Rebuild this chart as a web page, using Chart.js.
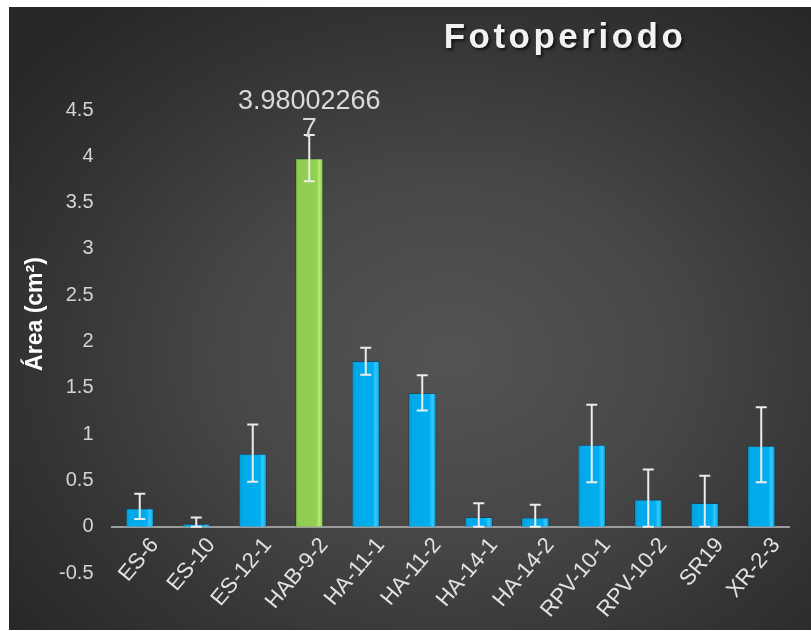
<!DOCTYPE html>
<html>
<head>
<meta charset="utf-8">
<title>Fotoperiodo</title>
<script src="https://cdn.jsdelivr.net/npm/chart.js@4"></script>
<style>
  html, body { margin: 0; padding: 0; background: #fff; }
  #wrap {
    position: absolute; left: 9px; top: 7px; width: 802px; height: 623px;
    background: radial-gradient(ellipse 70% 72% at 55% 56%, #545454 0%, #474747 40%, #333 75%, #272727 100%);
  }
</style>
</head>
<body>
<div id="wrap"><canvas id="chart"></canvas></div>
<script>
const categories = ['ES-6', 'ES-10', 'ES-12-1', 'HAB-9-2', 'HA-11-1', 'HA-11-2', 'HA-14-1', 'HA-14-2', 'RPV-10-1', 'RPV-10-2', 'SR19', 'XR-2-3'];
const areaValues = [0.20, 0.032, 0.788, 3.980022667, 1.79, 1.445, 0.105, 0.10, 0.886, 0.295, 0.256, 0.875];
const errorPlus  = [0.155, 0.068, 0.317, 0.25, 0.143, 0.19, 0.147, 0.138, 0.431, 0.324, 0.295, 0.415];
const errorMinus = [0.117, 0.032, 0.302, 0.25, 0.148, 0.19, 0.105, 0.10, 0.407, 0.295, 0.256, 0.396];
const yTicks = [-0.5, 0, 0.5, 1, 1.5, 2, 2.5, 3, 3.5, 4, 4.5];
const highlighted = 'HAB-9-2';

const FONT = "'Liberation Sans', Arial, sans-serif";

// bevelled look: darker edges, lighter stripe on the right side
const barFill = (ctx) => {
    const chart = ctx.chart;
    const green = categories[ctx.dataIndex] === highlighted;
    const x = chart.scales.x;
    const cx = x ? x.getPixelForValue(ctx.dataIndex) : NaN;
    if (!Number.isFinite(cx)) return green ? '#92d050' : '#00aeef';
    const half = 14;
    const g = chart.ctx.createLinearGradient(cx - half, 0, cx + half, 0);
    if (green) {
        g.addColorStop(0, '#78b53e');
        g.addColorStop(0.12, '#8fcc52');
        g.addColorStop(0.75, '#92d050');
        g.addColorStop(0.86, '#b6ec72');
        g.addColorStop(1, '#82bf45');
    } else {
        g.addColorStop(0, '#0590c6');
        g.addColorStop(0.12, '#02a9e8');
        g.addColorStop(0.75, '#00aeef');
        g.addColorStop(0.86, '#35cbff');
        g.addColorStop(1, '#0396d0');
    }
    return g;
};

const errorBars = {
    id: 'errorBars',
    afterDatasetsDraw(chart) {
        const { ctx, scales: { y } } = chart;
        const meta = chart.getDatasetMeta(0);
        ctx.save();
        ctx.strokeStyle = '#ececec';
        ctx.lineWidth = 2;
        meta.data.forEach((bar, i) => {
            const v = areaValues[i];
            const top = y.getPixelForValue(v + errorPlus[i]);
            const bot = y.getPixelForValue(v - errorMinus[i]);
            const cap = 5.5;
            ctx.beginPath();
            ctx.moveTo(bar.x, top); ctx.lineTo(bar.x, bot);
            ctx.moveTo(bar.x - cap, top); ctx.lineTo(bar.x + cap, top);
            ctx.moveTo(bar.x - cap, bot); ctx.lineTo(bar.x + cap, bot);
            ctx.stroke();
        });
        ctx.restore();
    }
};

const valueLabel = {
    id: 'valueLabel',
    afterDatasetsDraw(chart) {
        const { ctx } = chart;
        const i = categories.indexOf(highlighted);
        const bar = chart.getDatasetMeta(0).data[i];
        const text = String(areaValues[i]);
        const lines = [text.slice(0, 10), text.slice(10)];
        ctx.save();
        ctx.fillStyle = '#d9d9d9';
        ctx.font = '27px ' + FONT;
        ctx.textAlign = 'center';
        ctx.textBaseline = 'middle';
        ctx.fillText(lines[0], bar.x, bar.y - 57);
        ctx.fillText(lines[1], bar.x, bar.y - 29);
        ctx.restore();
    }
};

const titles = {
    id: 'titles',
    afterDraw(chart) {
        const { ctx } = chart;
        ctx.save();
        ctx.textAlign = 'center';
        ctx.textBaseline = 'middle';
        ctx.font = 'bold 35px ' + FONT;
        ctx.letterSpacing = '3.5px';
        ctx.shadowColor = 'rgba(0,0,0,0.65)';
        ctx.shadowOffsetX = 2;
        ctx.shadowOffsetY = 2;
        ctx.shadowBlur = 3;
        ctx.fillStyle = '#f2f2f2';
        ctx.fillText('Fotoperiodo', 556, 31);
        ctx.restore();

        ctx.save();
        ctx.translate(27, 307);
        ctx.rotate(-Math.PI / 2);
        ctx.textAlign = 'center';
        ctx.textBaseline = 'middle';
        ctx.font = 'bold 23px ' + FONT;
        ctx.fillStyle = '#ffffff';
        ctx.fillText('Área (cm²)', 0, 0);
        ctx.restore();
    }
};

new Chart(document.getElementById('chart'), {
    type: 'bar',
    data: {
        labels: categories,
        datasets: [{
            label: 'Área',
            data: areaValues,
            backgroundColor: barFill,
            borderColor: 'rgba(0,60,90,0.45)',
            borderWidth: 1,
            borderSkipped: 'bottom',
            barPercentage: 0.5,
            categoryPercentage: 1
        }]
    },
    options: {
        responsive: true,
        maintainAspectRatio: false,
        animation: false,
        layout: { padding: { top: 103, right: 21.5, bottom: 57, left: 0 } },
        plugins: {
            legend: { display: false },
            tooltip: { enabled: false },
            title: { display: false }
        },
        scales: {
            x: {
                position: { y: 0 },
                grid: { display: false, drawTicks: false },
                border: { display: true, color: '#9c9c9c', width: 2 },
                ticks: {
                    color: '#e2e2e2',
                    font: { family: FONT, size: 22 },
                    minRotation: 50,
                    maxRotation: 50,
                    autoSkip: false,
                    padding: 6,
                    labelOffset: 15
                }
            },
            y: {
                min: -0.5,
                max: 4.5,
                grid: { display: false, drawTicks: false },
                border: { display: false },
                afterFit(scale) { scale.width = 102.5; },
                afterBuildTicks(scale) { scale.ticks = yTicks.map(v => ({ value: v })); },
                ticks: {
                    color: '#d4d4d4',
                    font: { family: FONT, size: 20 },
                    padding: 18,
                    callback: (v) => String(v)
                }
            }
        }
    },
    plugins: [errorBars, valueLabel, titles]
});
</script>
</body>
</html>
